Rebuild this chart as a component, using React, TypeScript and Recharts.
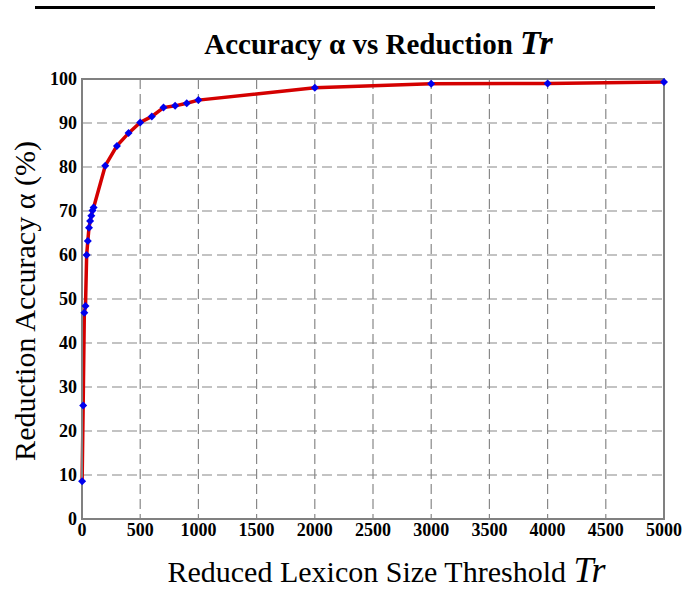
import React from "react";
import {
  LineChart,
  Line,
  XAxis,
  YAxis,
  CartesianGrid,
  ReferenceArea,
} from "recharts";

document.body.style.margin = "0";

const thresholds = [1, 10, 20, 30, 40, 50, 60, 70, 80, 90, 100, 200, 300, 400, 500, 600, 700, 800, 900, 1000, 2000, 3000, 4000, 5000];
const accuracy = [8.6, 25.8, 46.9, 48.4, 60.0, 63.2, 66.2, 67.7, 68.9, 70.1, 70.8, 80.3, 84.8, 87.7, 90.1, 91.5, 93.5, 93.9, 94.5, 95.2, 98.0, 98.9, 99.0, 99.3];
const xTicks = [0, 500, 1000, 1500, 2000, 2500, 3000, 3500, 4000, 4500, 5000];
const yTicks = [0, 10, 20, 30, 40, 50, 60, 70, 80, 90, 100];

const data = thresholds.map((t, i) => ({ tr: t, acc: accuracy[i] }));

const tickStyle = {
  fontFamily: "'Liberation Serif', serif",
  fontWeight: 700,
  fontSize: 18,
  fill: "#000",
};

function Diamond(props: any) {
  const { cx, cy } = props;
  if (cx == null || cy == null) return null;
  const r = 4;
  return (
    <polygon
      points={`${cx},${cy - r} ${cx + r},${cy} ${cx},${cy + r} ${cx - r},${cy}`}
      fill="#0000ee"
    />
  );
}

export default function App() {
  return (
    <div style={{ position: "relative", width: 689, height: 590, background: "#fff" }}>
      <div style={{ position: "absolute", left: 35, top: 6, width: 620, height: 3, background: "#000" }} />
      <div
        style={{
          position: "absolute",
          left: 0,
          width: 689,
          top: 26,
          textAlign: "center",
          paddingLeft: 68,
          boxSizing: "border-box",
          fontFamily: "'Liberation Serif', serif",
          fontWeight: 700,
          fontSize: 29,
          lineHeight: "34px",
          whiteSpace: "nowrap",
        }}
      >
        Accuracy α vs Reduction <span style={{ fontStyle: "italic", fontSize: 34 }}>Tr</span>
      </div>
      <LineChart
        width={689}
        height={590}
        data={data}
        margin={{ top: 79, right: 25, bottom: 41, left: 22 }}
        style={{ position: "absolute", left: 0, top: 0 }}
      >
        <CartesianGrid stroke="#888" strokeDasharray="10 5" strokeWidth={1.2} />
        <XAxis
          dataKey="tr"
          type="number"
          domain={[0, 5000]}
          ticks={xTicks}
          interval={0}
          height={30}
          tick={tickStyle}
          tickSize={0}
          tickMargin={4}
          stroke="#808080"
          strokeWidth={2}
        />
        <YAxis
          type="number"
          domain={[0, 100]}
          ticks={yTicks}
          interval={0}
          width={60}
          tick={tickStyle}
          tickSize={0}
          tickMargin={5}
          stroke="#808080"
          strokeWidth={2}
        />
        <ReferenceArea x1={0} x2={5000} y1={0} y2={100} fill="none" stroke="#808080" strokeWidth={2} ifOverflow="visible" />
        <Line
          dataKey="acc"
          type="linear"
          stroke="#d40000"
          strokeWidth={3.5}
          dot={<Diamond />}
          activeDot={false}
          isAnimationActive={false}
        />
      </LineChart>
      <div
        style={{
          position: "absolute",
          left: 0,
          width: 689,
          top: 557,
          textAlign: "center",
          paddingLeft: 84,
          boxSizing: "border-box",
          fontFamily: "'Liberation Serif', serif",
          fontSize: 30,
          lineHeight: "30px",
          whiteSpace: "nowrap",
        }}
      >
        Reduced Lexicon Size Threshold{" "}
        <span style={{ fontStyle: "italic", fontSize: 36, lineHeight: "20px" }}>Tr</span>
      </div>
      <div
        style={{
          position: "absolute",
          left: 25,
          top: 301,
          transform: "translate(-50%, -50%) rotate(-90deg)",
          fontFamily: "'Liberation Serif', serif",
          fontSize: 30,
          lineHeight: "34px",
          whiteSpace: "nowrap",
        }}
      >
        Reduction Accuracy α (%)
      </div>
    </div>
  );
}
